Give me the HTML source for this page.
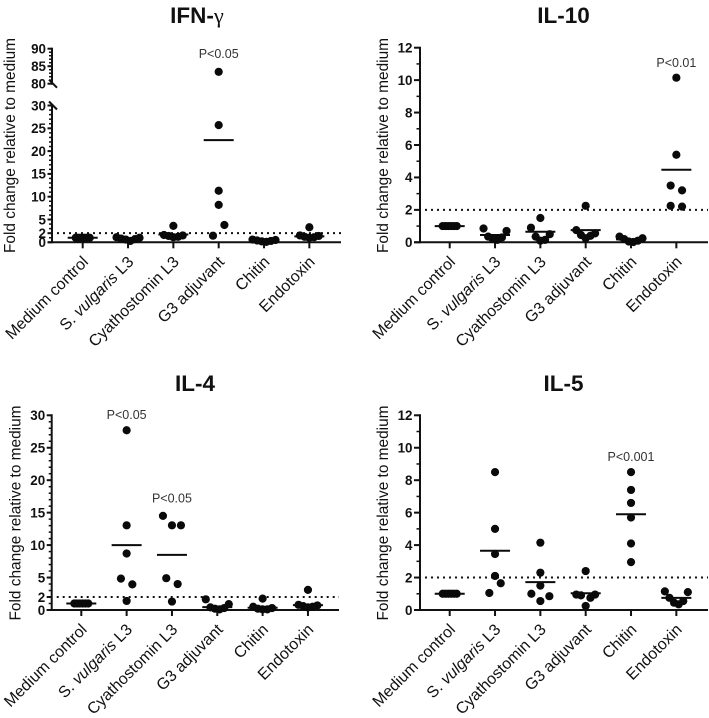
<!DOCTYPE html>
<html lang="en">
<head>
<meta charset="utf-8">
<title>Fold change relative to medium</title>
<style>
html,body{margin:0;padding:0;background:#fff;}
svg{display:block;font-family:"Liberation Sans",sans-serif;}
</style>
</head>
<body>
<svg id="chart" xmlns="http://www.w3.org/2000/svg" width="709" height="718" viewBox="0 0 709 718"></svg>
<script>
const categories = ["Medium control", "S. vulgaris L3", "Cyathostomin L3", "G3 adjuvant", "Chitin", "Endotoxin"];

const ifnValues = [
  [1, 1, 1, 1, 1, 1],
  [1.1, 1.0, 0.8, 0.7, 0.6, 0.3],
  [3.6, 1.6, 1.5, 1.4, 1.2, 1.1],
  [83.4, 25.7, 11.3, 8.2, 3.8, 1.45],
  [0.6, 0.5, 0.4, 0.3, 0.2, 0.1],
  [3.3, 1.5, 1.4, 1.2, 1.1, 1.0]
];
const ifnMeans = [1, 0.8, 1.7, 22.4, 0.3, 1.3];
const ifnTicks = [0, 2, 5, 10, 15, 20, 25, 30, 80, 85, 90];

const il10Values = [
  [1, 1, 1, 1, 1, 1],
  [0.85, 0.7, 0.35, 0.3, 0.2, 0.15],
  [1.5, 0.9, 0.5, 0.35, 0.15, 0.1],
  [2.25, 0.75, 0.55, 0.45, 0.4, 0.25],
  [0.35, 0.25, 0.2, 0.1, 0.05, 0.02],
  [10.15, 5.4, 3.5, 3.2, 2.25, 2.2]
];
const il10Means = [1, 0.45, 0.65, 0.75, 0.18, 4.47];
const il10Ticks = [0, 2, 4, 6, 8, 10, 12];

const il4Values = [
  [1, 1, 1, 1, 1, 1],
  [27.7, 13.05, 8.7, 4.83, 3.95, 1.4],
  [14.5, 13.05, 13.05, 4.9, 4, 1.3],
  [1.65, 0.9, 0.4, 0.3, 0.2, 0.1],
  [1.75, 0.5, 0.3, 0.2, 0.1, 0.1],
  [3.1, 0.8, 0.7, 0.6, 0.5, 0.4]
];
const il4Means = [1, 10, 8.5, 0.45, 0.35, 0.75];
const il4Ticks = [0, 2, 5, 10, 15, 20, 25, 30];

const il5Values = [
  [1, 1, 1, 1, 1, 1],
  [8.5, 5.0, 3.45, 2.1, 1.65, 1.05],
  [4.15, 2.3, 1.5, 1.0, 0.85, 0.55],
  [2.4, 0.95, 0.95, 0.9, 0.75, 0.25],
  [8.5, 7.4, 6.6, 5.7, 4.1, 2.95],
  [1.15, 1.1, 0.75, 0.55, 0.45, 0.35]
];
const il5Means = [1, 3.65, 1.72, 1.03, 5.9, 0.75];
const il5Ticks = [0, 2, 4, 6, 8, 10, 12];

const thresholdValue = 2;

const svg = document.getElementById('chart');
const NS = 'http://www.w3.org/2000/svg';

function add(parent, tag, attrs, text) {
  const el = document.createElementNS(NS, tag);
  for (const k in attrs) el.setAttribute(k, attrs[k]);
  if (text !== undefined) el.textContent = text;
  parent.appendChild(el);
  return el;
}

function linearY(y0, yTop, maxV) {
  return function (v) { return y0 - v * (y0 - yTop) / maxV; };
}
function brokenY(y0, yLowTop, lowMax, yHighBottom, yHighTop, highMin, highMax) {
  return function (v) {
    if (v <= lowMax) return y0 - v * (y0 - yLowTop) / lowMax;
    return yHighBottom - (v - highMin) * (yHighBottom - yHighTop) / (highMax - highMin);
  };
}

/* Swarm layout: chains points that sit close vertically and fans them out sideways. */
function swarm(values, yFn) {
  const sorted = values.slice().sort(function (a, b) { return b - a; });
  const out = [];
  let bin = [];
  function flush() {
    /* a large cluster whose top point stands clear keeps that point centred */
    if (bin.length >= 5 && Math.abs(yFn(bin[0]) - yFn(bin[1])) > 6) {
      out.push({ v: bin[0], dx: 0 });
      bin = bin.slice(1);
    }
    const n = bin.length;
    const span = Math.abs(yFn(bin[0]) - yFn(bin[n - 1]));
    let off = [];
    if (n === 1) off = [0];
    else if (n === 2) off = span > 8 ? [5.7, -5.7] : [-5.7, 5.7];
    else if (n === 3) {
      off = Math.abs(yFn(bin[1]) - yFn(bin[2])) < 1 ? [-9, 0, 9] : [0, 5.7, -5.7];
    }
    else if (n === 4) off = [0, -9, 9, 0];
    else {
      const s = span < 1 ? 2.8 : (n === 5 ? 4.7 : 4.6);
      let k = (n - 1) / 2;
      while (off.length < n) {
        off.push(-k * s);
        if (off.length < n && k !== 0) off.push(k * s);
        k -= 1;
      }
    }
    bin.forEach(function (v, i) { out.push({ v: v, dx: off[i] }); });
    bin = [];
  }
  sorted.forEach(function (v) {
    if (bin.length && Math.abs(yFn(bin[bin.length - 1]) - yFn(v)) > 12) flush();
    bin.push(v);
  });
  if (bin.length) flush();
  return out;
}

function drawPanel(cfg) {
  const g = add(svg, 'g', {});
  
  

  const title = add(g, 'text', { x: cfg.titleX, y: cfg.titleY, 'text-anchor': 'middle', 'font-size': 22.5, 'font-weight': 'bold', fill: '#111' }, cfg.title);
  
  
  if (cfg.titleGreek) {
    const gr = add(title, 'tspan', { 'font-family': '"Liberation Serif",serif', 'font-weight': 'normal' }, cfg.titleGreek);
    
    
  }

  const yt = add(g, 'text', {
    transform: 'translate(' + cfg.yTitleX + ' ' + cfg.yTitleY + ') rotate(-90)',
    'font-size': 15.4, fill: '#111', textLength: 215, lengthAdjust: 'spacingAndGlyphs'
  }, 'Fold change relative to medium');
  
  

  const y = cfg.yFn;
  const y0 = y(0);

  /* threshold line */
  const thr = add(g, 'line', { x1: cfg.axisX + 5, x2: cfg.xEnd, y1: y(thresholdValue), y2: y(thresholdValue), stroke: '#111', 'stroke-width': 2, 'stroke-dasharray': '2 4' });
  
  

  /* y axis */
  cfg.axisSegments.forEach(function (seg) {
    const ax = add(g, 'line', { x1: cfg.axisX, x2: cfg.axisX, y1: y(seg[0]) + 1, y2: y(seg[1]) - 1, stroke: '#111', 'stroke-width': 2 });
    
    
    for (let v = seg[0]; v <= seg[1]; v += cfg.minorStep) {
      const tk = add(g, 'line', { x1: cfg.axisX - cfg.minorLen, x2: cfg.axisX, y1: y(v), y2: y(v), stroke: '#111', 'stroke-width': 1.5 });
      
      
    }
  });
  cfg.ticks.forEach(function (v) {
    const tk = add(g, 'line', { x1: cfg.axisX - cfg.majorLen, x2: cfg.axisX, y1: y(v), y2: y(v), stroke: '#111', 'stroke-width': 2 });
    
    
    const lb = add(g, 'text', { x: cfg.axisX - cfg.majorLen - 1.5, y: y(v) + 4.8, 'text-anchor': 'end', 'font-size': 13.4, 'font-weight': 'bold', fill: '#111' }, String(v));
    
    
  });
  if (cfg.breakMarks) {
    cfg.breakMarks.forEach(function (v) {
      const yy = y(v);
      const b = add(g, 'line', { x1: cfg.axisX - 3, y1: yy - 4, x2: cfg.axisX + 5, y2: yy + 4, stroke: '#111', 'stroke-width': 2 });
      
      
    });
  }

  /* x axis */
  const xa = add(g, 'line', { x1: cfg.axisX - cfg.majorLen, x2: cfg.xEnd, y1: y0, y2: y0, stroke: '#111', 'stroke-width': 2 });
  
  

  const xOf = function (i) { return cfg.x0 + i * cfg.xStep; };

  categories.forEach(function (cat, i) {
    const cx = xOf(i);
    const tk = add(g, 'line', { x1: cx, x2: cx, y1: y0, y2: y0 + 6, stroke: '#111', 'stroke-width': 2 });
    
    

    const bx = cx + 6.5;
    const by = y0 + 20.5;
    const lb = add(g, 'text', { x: bx, y: by, 'text-anchor': 'end', 'font-size': 16, fill: '#111', transform: 'rotate(-45 ' + bx + ' ' + by + ')' });
    
    
    if (cat.indexOf('vulgaris') >= 0) {
      add(lb, 'tspan', {}, 'S. ');
      add(lb, 'tspan', { 'font-style': 'italic' }, 'vulgaris');
      add(lb, 'tspan', {}, ' L3');
    } else {
      lb.textContent = cat;
    }

    swarm(cfg.values[i], y).forEach(function (p) {
      const c = add(g, 'circle', { cx: cx + p.dx, cy: y(p.v), r: 4.1, fill: '#0a0a0a' });
      
      
    });

    const my = y(cfg.means[i]);
    const m = add(g, 'line', { x1: cx - 15, x2: cx + 15, y1: my, y2: my, stroke: '#0a0a0a', 'stroke-width': 2 });
    
    
  });

  cfg.notes.forEach(function (n) {
    const t = add(g, 'text', { x: xOf(n.cat), y: y(n.at) , 'text-anchor': 'middle', 'font-size': 12.5, fill: '#333' }, n.text);
    
    
  });
}

drawPanel({
  name: 'ifn-gamma', title: 'IFN-', titleGreek: 'γ', titleX: 197, titleY: 23,
  yTitleX: 15, yTitleY: 253,
  yFn: brokenY(242.3, 105.5, 30, 83.7, 48.7, 80, 90),
  axisX: 52, xEnd: 341, x0: 82.7, xStep: 45.33, majorLen: 4.5, minorLen: 3, minorStep: 1,
  axisSegments: [[0, 30], [80, 90]], ticks: ifnTicks, breakMarks: [30, 80],
  values: ifnValues, means: ifnMeans,
  notes: [{ cat: 3, text: 'P<0.05', at: 87.3 }]
});

drawPanel({
  name: 'il-10', title: 'IL-10', titleX: 563.5, titleY: 23,
  yTitleX: 388, yTitleY: 253,
  yFn: linearY(242.3, 47.7, 12),
  axisX: 420, xEnd: 708, x0: 449.7, xStep: 45.33, majorLen: 6, minorLen: 3.5, minorStep: 1,
  axisSegments: [[0, 12]], ticks: il10Ticks,
  values: il10Values, means: il10Means,
  notes: [{ cat: 5, text: 'P<0.01', at: 10.8 }]
});

drawPanel({
  name: 'il-4', title: 'IL-4', titleX: 195, titleY: 391,
  yTitleX: 20.5, yTitleY: 620.5,
  yFn: linearY(610, 415.3, 30),
  axisX: 51.7, xEnd: 339, x0: 81.3, xStep: 45.33, majorLen: 5, minorLen: 3, minorStep: 1,
  axisSegments: [[0, 30]], ticks: il4Ticks,
  values: il4Values, means: il4Means,
  notes: [
    { cat: 1, text: 'P<0.05', at: 29.4 },
    { cat: 2, text: 'P<0.05', at: 16.6 }
  ]
});

drawPanel({
  name: 'il-5', title: 'IL-5', titleX: 563.5, titleY: 391,
  yTitleX: 388, yTitleY: 620.5,
  yFn: linearY(610, 415.3, 12),
  axisX: 420, xEnd: 708, x0: 449.7, xStep: 45.33, majorLen: 6, minorLen: 3.5, minorStep: 1,
  axisSegments: [[0, 12]], ticks: il5Ticks,
  values: il5Values, means: il5Means,
  notes: [{ cat: 4, text: 'P<0.001', at: 9.17 }]
});
</script>
</body>
</html>
